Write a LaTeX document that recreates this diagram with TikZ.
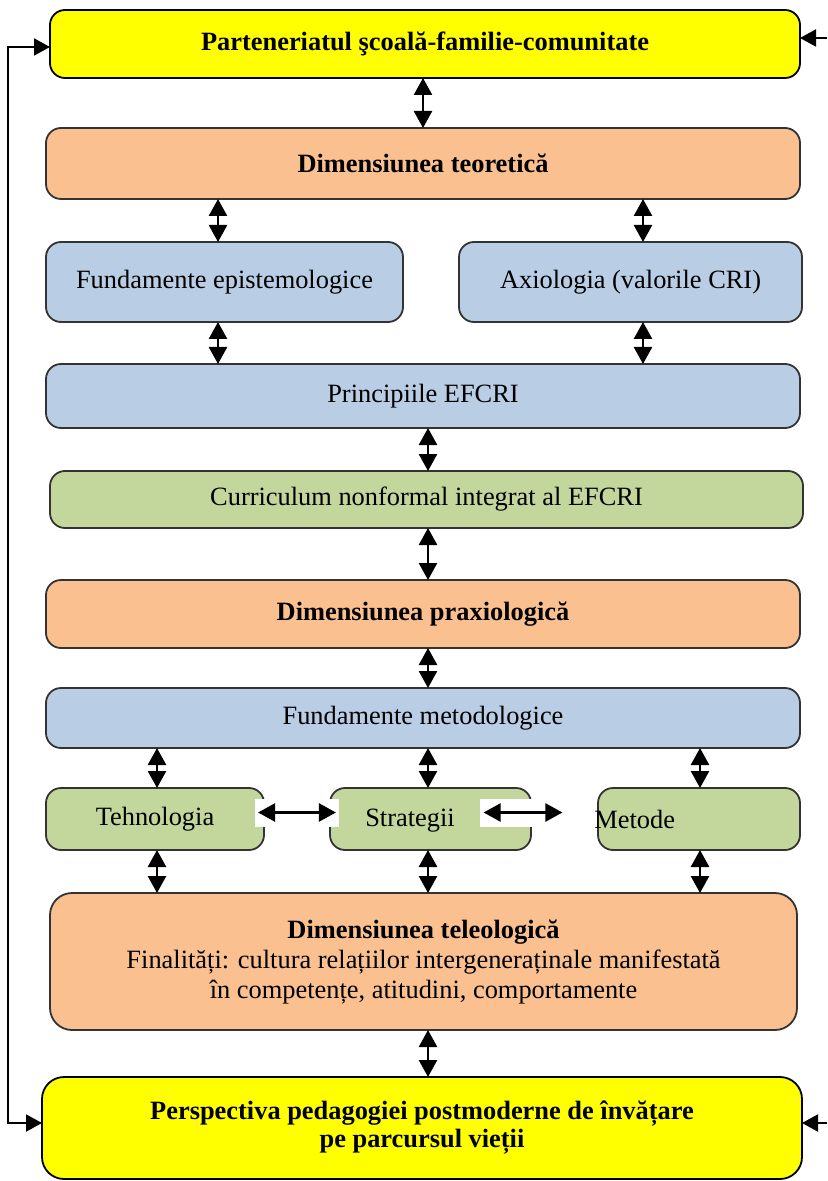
\documentclass[tikz,border=0pt]{standalone}
\usepackage{fontspec}
\setmainfont{Liberation Serif}
\usetikzlibrary{positioning,arrows.meta}
\definecolor{galben}{HTML}{FFFF00}
\definecolor{portocaliu}{HTML}{FAC090}
\definecolor{albastru}{HTML}{B9CDE5}
\definecolor{verde}{HTML}{C3D69B}
\tikzset{dbox/.style={rounded corners=7.5pt, draw=black!80, line width=0.9pt, inner sep=0pt, outer sep=0pt, align=center, font=\fontsize{13.2}{16}\selectfont}}
\tikzset{dbold/.style={font=\fontsize{13.2}{16}\selectfont\bfseries}}
\tikzset{dyel/.style={dbox, dbold, draw=black, fill=galben}}
\tikzset{dorg/.style={dbox, fill=portocaliu}}
\tikzset{dblu/.style={dbox, fill=albastru}}
\tikzset{dgrn/.style={dbox, fill=verde}}
\tikzset{dsize/.style 2 args={minimum width=#1, minimum height=#2}}
\tikzset{dtext/.style={font=\fontsize{13.2}{16}\selectfont, align=center}}
\tikzset{dwhite/.style={fill=white, inner sep=0pt, minimum width=42pt, minimum height=14pt}}
\tikzset{arr/.style={draw, {Triangle[length=8.5pt, width=9pt]}-{Triangle[length=8.5pt, width=9pt]}, line width=1.3pt}}
\tikzset{arr2/.style={draw, -{Triangle[length=8pt, width=8.5pt]}, line width=1pt}}
\tikzset{arr3/.style={draw, {Triangle[length=8pt, width=8.5pt]}-{Triangle[length=8pt, width=8.5pt]}, line width=1pt}}

\begin{document}
\begin{tikzpicture}[x=0.5pt, y=-0.5pt]
	\useasboundingbox[fill=white] (0,0) rectangle (827,1181);
	% boxes
	\node[dyel, dsize={375pt}{34pt}] (part) at (425,44) {\raisebox{-2pt}{Parteneriatul şcoală-familie-comunitate}};
	\node[dorg, dbold, dsize={377pt}{35.5pt}] (teor) at (423,163.5) {Dimensiunea teoretică};
	\node[dblu, dsize={178.5pt}{40pt}] (epist) at (224.5,282) {Fundamente epistemologice};
	\node[dblu, dsize={171.5pt}{40pt}] (axio) at (630.5,282) {Axiologia (valorile CRI)};
	\node[dblu, dsize={377pt}{32pt}] (princ) at (423,396) {Principiile EFCRI};
	\node[dgrn, dsize={376.5pt}{28.5pt}] (curr) at (426.5,499.5) {Curriculum nonformal integrat al EFCRI};
	\node[dorg, dbold, dsize={377pt}{34pt}] (prax) at (423,614) {Dimensiunea praxiologică};
	\node[dblu, dsize={377pt}{30pt}] (metod) at (423,718) {Fundamente metodologice};
	\node[dgrn, dsize={109pt}{31pt}] (tehn) at (155,819) {Tehnologia};
	\node[dgrn, dsize={100.5pt}{31pt}] (strat) at (430.5,819) {};
	\node[dgrn, dsize={101pt}{31pt}] (meto) at (699,819) {};
	\node[dorg, rounded corners=11pt, dsize={373.5pt}{68.5pt}, font=\fontsize{13.2}{15}\selectfont] (teleo) at (423.5,961.5)
		{\textbf{Dimensiunea teleologică}\\ Finalități: cultura relațiilor intergeneraținale manifestată\\ în competențe, atitudini, comportamente};
	\node[dyel, rounded corners=11pt, dsize={380pt}{51pt}, font=\fontsize{13.2}{15.5}\selectfont\bfseries] (persp) at (422,1128)
		{\raisebox{-1.5pt}{Perspectiva pedagogiei postmoderne de învățare}\\ pe parcursul vieții};
	% white patches and labels of the lower row
	\node[dwhite] (w1) at (296.5,812.5) {};
	\node[dwhite] (w2) at (522,812.5) {};
	\node[dtext] (stratL) at (410,821) {Strategii};
	\node[dtext, anchor=west, inner sep=0pt] (metoL) at (594,819) {Metode};
	% columns of the vertical arrows
	\coordinate (xa) at (218,0);
	\coordinate (xb) at (643,0);
	\coordinate (xc) at (428,0);
	\coordinate (xd) at (157,0);
	\coordinate (xe) at (700,0);
	\coordinate (fbL) at (8,0);
	\coordinate (fbR) at (827,0);
	\draw[arr] (part.south -| teor) -- (teor.north);
	\draw[arr] (teor.south -| xa) -- (epist.north -| xa);
	\draw[arr] (teor.south -| xb) -- (axio.north -| xb);
	\draw[arr] (epist.south -| xa) -- (princ.north -| xa);
	\draw[arr] (axio.south -| xb) -- (princ.north -| xb);
	\draw[arr] (princ.south -| xc) -- (curr.north -| xc);
	\draw[arr] (curr.south -| xc) -- (prax.north -| xc);
	\draw[arr] (prax.south -| xc) -- (metod.north -| xc);
	\draw[arr] (metod.south -| xd) -- (tehn.north -| xd);
	\draw[arr] (metod.south -| xc) -- (strat.north -| xc);
	\draw[arr] (metod.south -| xe) -- (meto.north -| xe);
	\draw[arr] (tehn.south -| xd) -- (teleo.north -| xd);
	\draw[arr] (strat.south -| xc) -- (teleo.north -| xc);
	\draw[arr] (meto.south -| xe) -- (teleo.north -| xe);
	\draw[arr] (teleo.south -| xc) -- (persp.north -| xc);
	\draw[arr, shorten <=2pt, shorten >=1.5pt] (w1.west) -- (w1.east);
	\draw[arr, shorten <=2pt, shorten >=1pt] (w2.west) -- (w2.east);
	% feedback lines
	\draw[arr3] ([yshift=-1.5pt]part.west) -- ([yshift=-1.5pt]part.west -| fbL) -- ([yshift=2.5pt]persp.west -| fbL) -- ([yshift=2.5pt]persp.west);
	\draw[arr2] ([yshift=3pt]part.east -| fbR) -- ([yshift=3pt]part.east);
	\draw[arr2] ([yshift=2.5pt]persp.east -| fbR) -- ([yshift=2.5pt]persp.east);
\end{tikzpicture}
\end{document}
